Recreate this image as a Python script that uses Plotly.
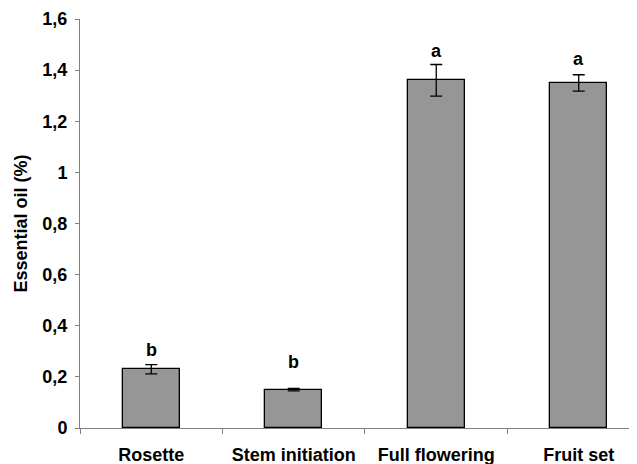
import plotly.graph_objects as go

categories = ["Rosette", "Stem initiation", "Full flowering", "Fruit set"]
values = [0.23, 0.15, 1.36, 1.35]
errors = [0.018, 0.005, 0.062, 0.032]
letters = ["b", "b", "a", "a"]
letter_y = [0.278, 0.231, 1.448, 1.416]
ytick_vals = [0, 0.2, 0.4, 0.6, 0.8, 1.0, 1.2, 1.4, 1.6]
ytick_text = ["0", "0,2", "0,4", "0,6", "0,8", "1", "1,2", "1,4", "1,6"]

fam = "Arial, Liberation Sans, sans-serif"
font = dict(family=fam, size=18, color="black")

fig = go.Figure()
fig.add_trace(go.Bar(
    x=categories, y=values, width=0.4,
    marker=dict(color="#969696", line=dict(color="black", width=1.3)),
    error_y=dict(type="data", array=errors, visible=True, color="black", thickness=1.3, width=6),
))
for c, ly, l in zip(categories, letter_y, letters):
    fig.add_annotation(x=c, y=ly, text="<b>%s</b>" % l, showarrow=False,
                       yanchor="bottom", yshift=-5, font=dict(size=18, family=fam, color="black"))

fig.update_layout(
    width=629, height=456,
    margin=dict(l=72, r=0, t=11, b=36),
    plot_bgcolor="white", paper_bgcolor="white",
    font=font, showlegend=False, separators=",.",
    bargap=0,
    xaxis=dict(range=[-0.5, 3.409], showline=True, linecolor="#808080", linewidth=1,
               ticks="outside", tickson="boundaries", ticklen=5, tickcolor="#808080",
               tickfont=dict(size=18), showgrid=False, zeroline=False, automargin=False,
               ticklabelstandoff=10,
               tickvals=categories, ticktext=["<b>%s</b>" % c for c in categories]),
    yaxis=dict(range=[0, 1.6], tickvals=ytick_vals, ticktext=["<b>%s</b>" % t for t in ytick_text],
               showline=True, linecolor="#808080", linewidth=1, ticks="outside", ticklen=4,
               tickcolor="#808080", showgrid=False, zeroline=False, tickfont=dict(size=18),
               automargin=False, ticklabelstandoff=4,
               title=dict(text="<b>Essential oil (%)</b>", font=dict(size=18), standoff=10)),
)
fig.write_html("out.html")
